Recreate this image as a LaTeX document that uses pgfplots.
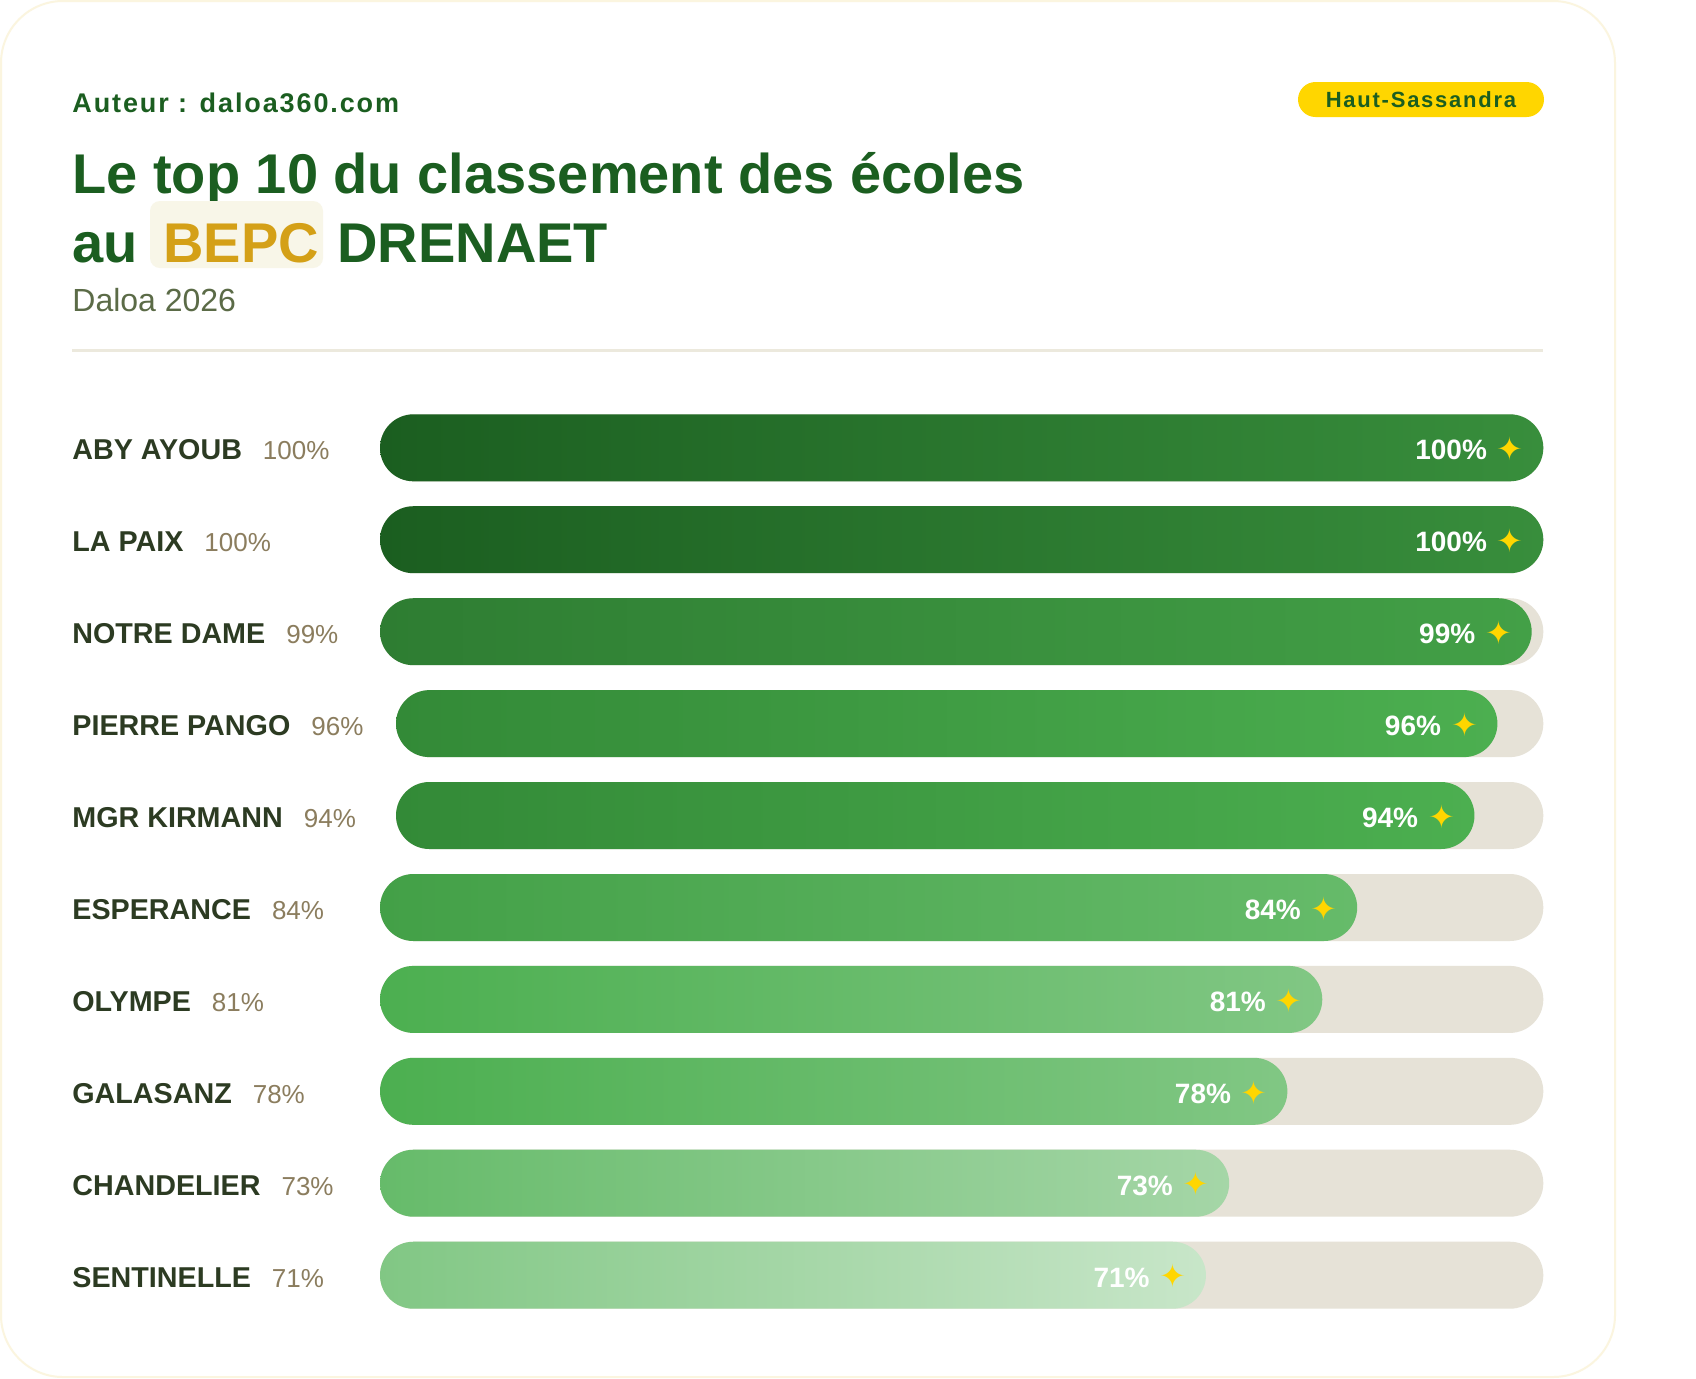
\documentclass[border=0pt]{standalone}
\usepackage{pgfplots}
\pgfplotsset{compat=1.18}
\usepackage{fontspec}
\setmainfont{Liberation Sans}
\newfontfamily\symfont{DejaVu Sans}
\newfontfamily\authfont[LetterSpace=7]{Liberation Sans}
\newfontfamily\badgefont[LetterSpace=8]{Liberation Sans}
\definecolor{dkgreen}{HTML}{1B5E20}
\definecolor{namecol}{HTML}{2C3B22}
\definecolor{pctcol}{HTML}{8B7D5E}
\definecolor{subcol}{HTML}{5B6B47}
\definecolor{track}{HTML}{E6E2D7}
\definecolor{gold}{HTML}{D4A017}
\definecolor{starcol}{HTML}{FFD600}
\definecolor{cardborder}{HTML}{FBF5DF}
\definecolor{sepcol}{HTML}{ECE9DD}
\definecolor{bepcbg}{HTML}{F8F6E8}
% bar gradients (left -> right)
\definecolor{gAa}{HTML}{1B5E20}\definecolor{gAb}{HTML}{388E3C}
\definecolor{gBa}{HTML}{2E7D32}\definecolor{gBb}{HTML}{43A047}
\definecolor{gCa}{HTML}{338A37}\definecolor{gCb}{HTML}{4CAF50}
\definecolor{gDa}{HTML}{43A047}\definecolor{gDb}{HTML}{66BB6A}
\definecolor{gEa}{HTML}{4CAF50}\definecolor{gEb}{HTML}{81C784}
\definecolor{gFa}{HTML}{66BB6A}\definecolor{gFb}{HTML}{A5D6A7}
\definecolor{gGa}{HTML}{81C784}\definecolor{gGb}{HTML}{C8E6C9}

% #1 y centre (px), #2 x start (px), #3 axis width, #4 name, #5 percent, #6 left colour, #7 right colour
\newcommand\barrow[7]{%
  \node[anchor=base west, inner sep=0pt] at (72,#1+12)
    {\fontsize{14.35}{16}\selectfont\bfseries\color{namecol}#4\hspace{10.5pt}\mdseries\fontsize{13}{16}\selectfont\color{pctcol}#5\%};
  \begin{axis}[at={({0.5pt*(#2)},{-0.5pt*(#1)})}, anchor=west, scale only axis, width=#3, height=45.965pt,
      xmin=0, xmax=100, ymin=-0.5, ymax=0.5, axis lines=none, clip=false, enlargelimits=false]
    \addplot[xbar, bar shift=0pt, bar width=33.5pt, draw=none, fill=track, rounded corners=16.75pt] coordinates {(100,0)};
    \addplot[xbar, bar shift=0pt, bar width=33.5pt, draw=none, left color=#6, right color=#7, rounded corners=16.75pt] coordinates {(#5,0)};
    \node[anchor=base east, inner sep=0pt, text=white, font=\fontsize{14}{16}\selectfont\bfseries]
      at (axis cs:#5,0) [xshift=-28pt, yshift=-6pt] {#5\%};
    \node[anchor=center, inner sep=0pt, text=starcol, font=\symfont\fontsize{16}{16}\selectfont]
      at (axis cs:#5,0) [xshift=-16.5pt, yshift=-0.5pt] {✦};
  \end{axis}
}

\begin{document}
\begin{tikzpicture}[x=0.5pt, y=-0.5pt]
  \useasboundingbox (0,0) rectangle (1696,1378);
  \fill[white] (0,0) rectangle (1696,1378);
  \draw[cardborder, line width=1pt, fill=white, rounded corners=31pt] (1,1) rectangle (1615,1377);

  % header
  \node[anchor=base west, inner sep=0pt, text=dkgreen, font=\authfont\fontsize{13.5}{16}\selectfont\bfseries] at (72,112) {Auteur : daloa360.com};
  \fill[starcol, rounded corners=8.75pt] (1298,82) rectangle (1544,117);
  \node[inner sep=0pt, text=dkgreen, font=\badgefont\fontsize{11}{12}\selectfont\bfseries, anchor=base] at (1421,107) {Haut-Sassandra};

  \node[anchor=base west, inner sep=0pt, text=dkgreen, font=\fontsize{28}{32}\selectfont\bfseries] at (72,193) {Le top 10 du classement des écoles};
  \node[anchor=base west, inner sep=0pt, text=dkgreen, font=\fontsize{28}{32}\selectfont\bfseries] at (72,262) {au};
  \fill[bepcbg, rounded corners=5pt] (150,201) rectangle (323,268);
  \node[anchor=base west, inner sep=0pt, text=gold, font=\fontsize{28}{32}\selectfont\bfseries] at (163,262) {BEPC};
  \node[anchor=base west, inner sep=0pt, text=dkgreen, font=\fontsize{28}{32}\selectfont\bfseries] at (337,262) {DRENAET};
  \node[anchor=base west, inner sep=0pt, text=subcol, font=\fontsize{16}{18}\selectfont] at (72,311) {Daloa 2026};
  \draw[sepcol, line width=1.5pt] (72,350) -- (1543,350);

  % rows
  \barrow{447.8}{380}{581.65pt}{ABY AYOUB}{100}{gAa}{gAb}
  \barrow{539.7}{380}{581.65pt}{LA PAIX}{100}{gAa}{gAb}
  \barrow{631.7}{380}{581.65pt}{NOTRE DAME}{99}{gBa}{gBb}
  \barrow{723.6}{396}{573.65pt}{PIERRE PANGO}{96}{gCa}{gCb}
  \barrow{815.5}{396}{573.65pt}{MGR KIRMANN}{94}{gCa}{gCb}
  \barrow{907.5}{380}{581.65pt}{ESPERANCE}{84}{gDa}{gDb}
  \barrow{999.4}{380}{581.65pt}{OLYMPE}{81}{gEa}{gEb}
  \barrow{1091.3}{380}{581.65pt}{GALASANZ}{78}{gEa}{gEb}
  \barrow{1183.2}{380}{581.65pt}{CHANDELIER}{73}{gFa}{gFb}
  \barrow{1275.2}{380}{581.65pt}{SENTINELLE}{71}{gGa}{gGb}
\end{tikzpicture}
\end{document}
